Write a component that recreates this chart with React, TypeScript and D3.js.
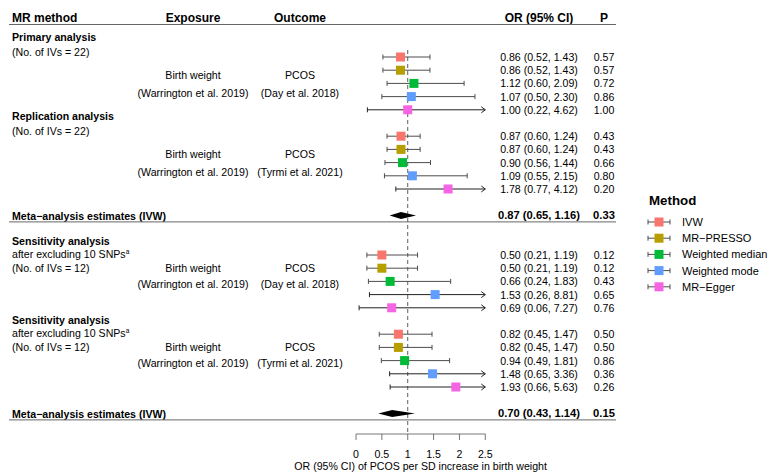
import React from "react";
import * as d3 from "d3";

const methods = ["IVW", "MR\u2212PRESSO", "Weighted median", "Weighted mode", "MR\u2212Egger"];
const colors = ["#F8766D", "#B79F00", "#00BA38", "#619CFF", "#F564E3"];

const primaryOR = [0.86, 0.86, 1.12, 1.07, 1.0];
const primaryLo = [0.52, 0.52, 0.6, 0.5, 0.22];
const primaryHi = [1.43, 1.43, 2.09, 2.3, 4.62];
const primaryP = [0.57, 0.57, 0.72, 0.86, 1.0];

const replicationOR = [0.87, 0.87, 0.9, 1.09, 1.78];
const replicationLo = [0.6, 0.6, 0.56, 0.55, 0.77];
const replicationHi = [1.24, 1.24, 1.44, 2.15, 4.12];
const replicationP = [0.43, 0.43, 0.66, 0.8, 0.2];

const sens1OR = [0.5, 0.5, 0.66, 1.53, 0.69];
const sens1Lo = [0.21, 0.21, 0.24, 0.26, 0.06];
const sens1Hi = [1.19, 1.19, 1.83, 8.81, 7.27];
const sens1P = [0.12, 0.12, 0.43, 0.65, 0.76];

const sens2OR = [0.82, 0.82, 0.94, 1.48, 1.93];
const sens2Lo = [0.45, 0.45, 0.49, 0.65, 0.66];
const sens2Hi = [1.47, 1.47, 1.81, 3.36, 5.63];
const sens2P = [0.5, 0.5, 0.86, 0.36, 0.26];

const metaOR = [0.87, 0.7];
const metaLo = [0.65, 0.43];
const metaHi = [1.16, 1.14];
const metaP = [0.33, 0.15];

const xTicks = [0, 0.5, 1, 1.5, 2, 2.5];

type Group = {
  title: string;
  notes: string[];
  sup: boolean;
  outcome: string;
  start: number;
  or: number[];
  lo: number[];
  hi: number[];
  p: number[];
};

const groups: Group[] = [
  { title: "Primary analysis", notes: ["(No. of IVs = 22)"], sup: false, outcome: "(Day et al. 2018)", start: 0, or: primaryOR, lo: primaryLo, hi: primaryHi, p: primaryP },
  { title: "Replication analysis", notes: ["(No. of IVs = 22)"], sup: false, outcome: "(Tyrmi et al. 2021)", start: 6, or: replicationOR, lo: replicationLo, hi: replicationHi, p: replicationP },
  { title: "Sensitivity analysis", notes: ["after excluding 10 SNPs", "(No. of IVs = 12)"], sup: true, outcome: "(Day et al. 2018)", start: 15, or: sens1OR, lo: sens1Lo, hi: sens1Hi, p: sens1P },
  { title: "Sensitivity analysis", notes: ["after excluding 10 SNPs", "(No. of IVs = 12)"], sup: true, outcome: "(Tyrmi et al. 2021)", start: 21, or: sens2OR, lo: sens2Lo, hi: sens2Hi, p: sens2P },
];
const metaRows = [12, 27];

const FONT = "'Liberation Sans', Arial, Helvetica, sans-serif";

export default function App() {
  const W = 769;
  const H = 472;
  const x = d3.scaleLinear().domain([0, 2.5]).range([356, 485.3]);
  const y = d3.scaleLinear().domain([0, 27]).range([57, 413.4]);
  const f2 = d3.format(".2f");
  const xMax = 2.5;
  const orX = 539;
  const pX = 604;
  const expX = 193;
  const outX = 300;
  const lineCol = "#4d4d4d";
  const sq = 9;
  const cap = 2.5;
  const fs = 10.6;

  const whisker = (lo: number, hi: number, yy: number, key: string) => {
    const clipped = hi > xMax;
    const x1 = x(lo);
    const x2 = x(Math.min(hi, xMax));
    return (
      <g key={key}>
        <line x1={x1} x2={x2} y1={yy} y2={yy} stroke={clipped ? "#222" : lineCol} strokeWidth={1} />
        <line x1={x1} x2={x1} y1={yy - cap} y2={yy + cap} stroke={clipped ? "#222" : lineCol} strokeWidth={1} />
        {clipped ? (
          <path d={`M${x2 - 4},${yy - 3} L${x2},${yy} L${x2 - 4},${yy + 3}`} fill="none" stroke="#222" strokeWidth={1} />
        ) : (
          <line x1={x2} x2={x2} y1={yy - cap} y2={yy + cap} stroke={lineCol} strokeWidth={1} />
        )}
      </g>
    );
  };

  return (
    <svg width={W} height={H} style={{ position: "absolute", left: 0, top: 0, background: "#fff" }} fontFamily={FONT}>
      <rect x={0} y={0} width={W} height={H} fill="#fff" />
      {/* header */}
      <g fontWeight="bold" fontSize={12} fill="#000">
        <text x={12} y={18} dominantBaseline="central">MR method</text>
        <text x={expX} y={18} textAnchor="middle" dominantBaseline="central">Exposure</text>
        <text x={outX} y={18} textAnchor="middle" dominantBaseline="central">Outcome</text>
        <text x={orX} y={18} textAnchor="middle" dominantBaseline="central">OR (95% CI)</text>
        <text x={pX} y={18} textAnchor="middle" dominantBaseline="central">P</text>
      </g>
      <line x1={9} x2={616} y1={24.5} y2={24.5} stroke="#666" strokeWidth={1} />

      {/* reference line */}
      <line x1={x(1)} x2={x(1)} y1={50} y2={434} stroke="#333" strokeWidth={0.8} strokeDasharray="4,3" />

      {groups.map((g, gi) => {
        const s = y(g.start);
        const threeLine = g.notes.length > 1;
        const titleY = threeLine ? s - 14 : s - 20;
        const noteYs = threeLine ? [s - 1.5, s + 13] : [s - 5.5];
        const exp1 = threeLine ? s + 13 : s + 17.5;
        const exp2 = threeLine ? s + 29 : s + 35.5;
        return (
          <g key={"g" + gi} fontSize={fs} fill="#000">
            <text x={12} y={titleY} fontWeight="bold" dominantBaseline="central">{g.title}</text>
            {g.notes.map((n, ni) => (
              <text key={ni} x={12} y={noteYs[ni]} dominantBaseline="central">
                {n}
                {g.sup && ni === 0 ? <tspan fontSize={6.5} dy={-3}>a</tspan> : null}
              </text>
            ))}
            <text x={expX} y={exp1} textAnchor="middle" dominantBaseline="central">Birth weight</text>
            <text x={expX} y={exp2} textAnchor="middle" dominantBaseline="central">(Warrington et al. 2019)</text>
            <text x={outX} y={exp1} textAnchor="middle" dominantBaseline="central">PCOS</text>
            <text x={outX} y={exp2} textAnchor="middle" dominantBaseline="central">{g.outcome}</text>
            {g.or.map((v, i) => {
              const yy = y(g.start + i);
              return (
                <g key={i}>
                  {whisker(g.lo[i], g.hi[i], yy, "w" + i)}
                  <rect x={x(v) - sq / 2} y={yy - sq / 2} width={sq} height={sq} fill={colors[i]} />
                  <text x={orX} y={yy} textAnchor="middle" dominantBaseline="central">
                    {`${f2(v)} (${f2(g.lo[i])}, ${f2(g.hi[i])})`}
                  </text>
                  <text x={pX} y={yy} textAnchor="middle" dominantBaseline="central">{f2(g.p[i])}</text>
                </g>
              );
            })}
          </g>
        );
      })}

      {metaRows.map((r, mi) => {
        const yy = y(r);
        const lo = x(metaLo[mi]);
        const hi = x(metaHi[mi]);
        const c = x(metaOR[mi]);
        return (
          <g key={"m" + mi} fontSize={fs} fontWeight="bold" fill="#000">
            <text x={12} y={yy + 1} dominantBaseline="central">Meta{"\u2212"}analysis estimates (IVW)</text>
            <path d={`M${lo},${yy} L${c},${yy - 3.5} L${hi},${yy} L${c},${yy + 3.5} Z`} fill="#000" />
            <text x={orX} y={yy} textAnchor="middle" dominantBaseline="central" fontSize={11.2}>
              {`${f2(metaOR[mi])} (${f2(metaLo[mi])}, ${f2(metaHi[mi])})`}
            </text>
            <text x={pX} y={yy} textAnchor="middle" dominantBaseline="central" fontSize={11.2}>{f2(metaP[mi])}</text>
            <line x1={9} x2={616} y1={yy + 6.5} y2={yy + 6.5} stroke="#666" strokeWidth={1} fontWeight="normal" />
          </g>
        );
      })}

      {/* x axis */}
      <g fontSize={fs} fill="#000">
        <line x1={x(0)} x2={x(2.5)} y1={434} y2={434} stroke="#555" strokeWidth={0.8} />
        {xTicks.map((t) => (
          <g key={t}>
            <line x1={x(t)} x2={x(t)} y1={434} y2={440} stroke="#555" strokeWidth={0.8} />
            <text x={x(t)} y={454} textAnchor="middle" dominantBaseline="central">{String(t)}</text>
          </g>
        ))}
        <text x={(x(0) + x(2.5)) / 2} y={466} textAnchor="middle" dominantBaseline="central">
          OR (95% CI) of PCOS per SD increase in birth weight
        </text>
      </g>

      {/* legend */}
      <g fill="#000">
        <text x={649} y={200} fontWeight="bold" fontSize={13.3} dominantBaseline="central">Method</text>
        {methods.map((m, i) => {
          const yy = 222 + 16.2 * i;
          return (
            <g key={m}>
              <line x1={648} x2={670} y1={yy} y2={yy} stroke={lineCol} strokeWidth={1} />
              <line x1={648} x2={648} y1={yy - cap} y2={yy + cap} stroke={lineCol} strokeWidth={1} />
              <line x1={670} x2={670} y1={yy - cap} y2={yy + cap} stroke={lineCol} strokeWidth={1} />
              <rect x={659 - sq / 2} y={yy - sq / 2} width={sq} height={sq} fill={colors[i]} />
              <text x={682} y={yy} fontSize={11} dominantBaseline="central">{m}</text>
            </g>
          );
        })}
      </g>
    </svg>
  );
}
